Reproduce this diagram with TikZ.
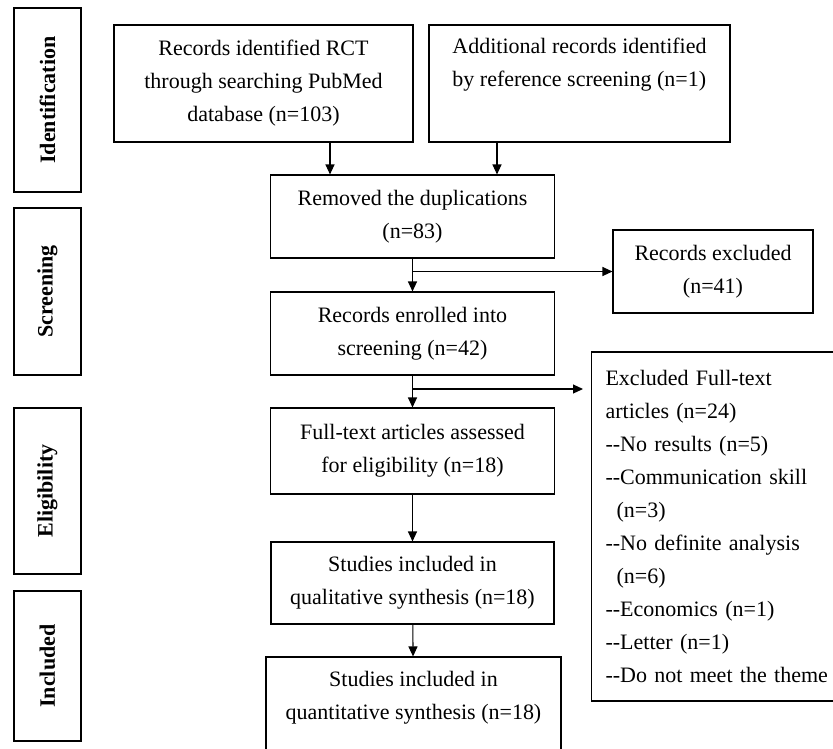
\documentclass[tikz,border=0pt]{standalone}
\usepackage{fontspec}
\setmainfont{Liberation Serif}
\usepackage{tikz}
\tikzstyle{stage} = [draw, rotate=90, minimum height=67pt, inner sep=0pt, font=\bfseries]
\tikzstyle{box} = [draw, align=center, inner sep=0pt]
\tikzstyle{arrow} = [-{Triangle[length=10pt,width=9pt]}]
\usetikzlibrary{arrows.meta}

\begin{document}
\begin{tikzpicture}[x=1pt, y=-1pt, line width=1.1pt]
			\fontsize{22}{33}\selectfont
			\useasboundingbox (0,0) rectangle (833,748);
			\clip (0,0) rectangle (833,748);

			%--Stage Labels--%
			\node(ident)[stage, minimum width=184pt] at (47.5,100) {Identification};
			\node(screen)[stage, minimum width=167pt] at (47.5,291.5) {Screening};
			\node(elig)[stage, minimum width=166pt] at (47.5,491) {Eligibility};
			\node(incl)[stage, minimum width=150pt] at (47.5,666) {Included};

			%--Identification--%
			\node(pubmed)[box, minimum width=299pt, minimum height=117pt] at (263.5,83.5)
				{Records identified RCT\\through searching PubMed\\database (n=103)};
			\node(refscr)[box, align=left, minimum width=301pt, minimum height=117pt] at (579.5,83.5)
				{Additional records identified\\by reference screening (n=1)\\\strut};

			%--Screening--%
			\node(remdup)[box, minimum width=284pt, minimum height=83pt] at (412.5,216.5)
				{Removed the duplications\\(n=83)};
			\node(recexcl)[box, minimum width=200pt, minimum height=83pt] at (713,271.5)
				{Records excluded\\(n=41)};
			\node(enrol)[box, minimum width=284pt, minimum height=83pt] at (412.5,333.5)
				{Records enrolled into\\screening (n=42)};

			%--Eligibility--%
			\node(ftart)[box, minimum width=284pt, minimum height=86pt] at (412.5,451)
				{Full-text articles assessed\\for eligibility (n=18)};
			\node(ftexcl)[box, align=left, anchor=west, text width=250pt, inner xsep=14pt, minimum height=349pt] at (591,526.5)
				{Excluded Full-text\\articles (n=24)\\-{}-No results (n=5)\\-{}-Communication skill\\\hspace*{11pt}(n=3)\\-{}-No definite analysis\\\hspace*{11pt}(n=6)\\-{}-Economics (n=1)\\-{}-Letter (n=1)\\-{}-Do not meet the theme};
			\coordinate(ftend) at (583,389);

			%--Included--%
			\node(qual)[box, minimum width=283pt, minimum height=82pt] at (412.5,583)
				{Studies included in\\qualitative synthesis (n=18)};
			\node(quant)[box, minimum width=295pt, minimum height=119pt] at (413.5,716.5)
				{Studies included in\\quantitative synthesis (n=18)\\\strut};

			%--Arrows--%
			\draw[arrow] ([xshift=66.5pt]pubmed.south) -- ([xshift=66.5pt]pubmed.south |- remdup.north);
			\draw[arrow] ([xshift=-82.5pt]refscr.south) -- ([xshift=-82.5pt]refscr.south |- remdup.north);
			\draw[arrow] (remdup) -- (enrol);
			\draw[arrow] (remdup.south |- recexcl.west) -- (recexcl.west);
			\draw[arrow] (enrol) -- (ftart);
			\draw[arrow] (enrol.south |- ftend) -- (ftend);
			\draw[arrow] (ftart) -- (qual);
			\draw[arrow] (qual) -- (quant);
		\end{tikzpicture}
\end{document}
